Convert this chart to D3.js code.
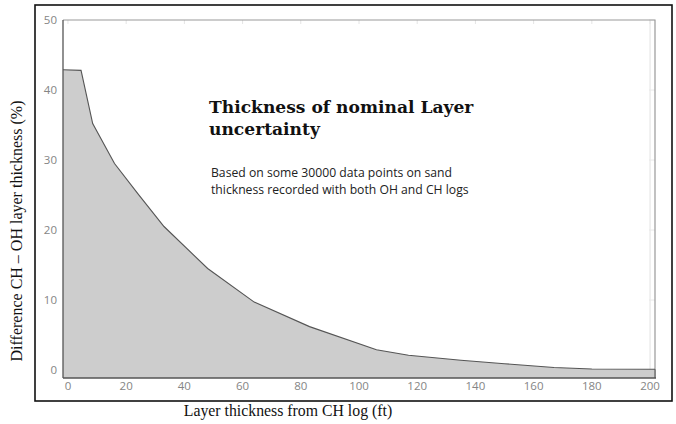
<!DOCTYPE html>
<html>
<head>
<meta charset="utf-8">
<script src="https://cdn.jsdelivr.net/npm/d3@7"></script>
<style>
  body { margin: 0; background: #fff; }
  svg { display: block; }
</style>
</head>
<body>
<div id="chart"></div>
<script>
// layer thickness (ft) vs difference CH - OH (%)
var thickness = [-1.7, 4.5, 8.5, 16, 24, 33, 48, 64, 83, 106, 117, 135, 150, 167, 180, 201.7];
var difference = [42.9, 42.8, 35.2, 29.5, 25.2, 20.5, 14.5, 9.7, 6.2, 2.9, 2.1, 1.4, 0.9, 0.35, 0.15, 0.1];
var xTicks = [0, 20, 40, 60, 80, 100, 120, 140, 160, 180, 200];
var yTicks = [0, 10, 20, 30, 40, 50];

var width = 676, height = 424;
var plot = {left: 63, right: 655, top: 20, bottom: 378};

var svg = d3.select("#chart").append("svg").attr("width", width).attr("height", height);

// outer frame
svg.append("rect").attr("x", 35).attr("y", 5).attr("width", 637).attr("height", 396)
    .attr("fill", "none").attr("stroke", "#111").attr("stroke-width", 1.6);

var x = d3.scaleLinear().domain([-1.7, 201.7]).range([plot.left, plot.right]);
var y = d3.scaleLinear().domain([-1.14, 50]).range([plot.bottom, plot.top]);

var data = thickness.map(function(t, i){ return {x: t, y: difference[i]}; });

// faint grid bits
svg.append("line").attr("x1", x(200)).attr("x2", x(200)).attr("y1", plot.top).attr("y2", y(0))
    .attr("stroke", "#ececec").attr("stroke-width", 1.5);
svg.selectAll(".ttick").data(xTicks).enter().append("line")
    .attr("x1", function(d){ return x(d); }).attr("x2", function(d){ return x(d); })
    .attr("y1", plot.top).attr("y2", plot.top + 4).attr("stroke", "#e4e4e4");
svg.selectAll(".rtick").data(yTicks).enter().append("line")
    .attr("x1", plot.right - 6).attr("x2", plot.right)
    .attr("y1", function(d){ return y(d); }).attr("y2", function(d){ return y(d); })
    .attr("stroke", "#e8e8e8");

// plot frame top/right
svg.append("path")
    .attr("d", "M" + plot.left + "," + plot.top + "H" + plot.right + "V" + plot.bottom)
    .attr("fill", "none").attr("stroke", "#999").attr("stroke-width", 1.2);

var area = d3.area().x(function(d){ return x(d.x); }).y0(plot.bottom).y1(function(d){ return y(d.y); });
var line = d3.line().x(function(d){ return x(d.x); }).y(function(d){ return y(d.y); });

svg.append("path").datum(data).attr("d", area).attr("fill", "#cdcdcd");
svg.append("path").datum(data).attr("d", line).attr("fill", "none")
    .attr("stroke", "#555").attr("stroke-width", 1.1);
svg.append("line").attr("x1", x(201.7)).attr("x2", x(201.7))
    .attr("y1", y(difference[difference.length - 1])).attr("y2", plot.bottom)
    .attr("stroke", "#555").attr("stroke-width", 1.1);

// axis lines
svg.append("line").attr("x1", plot.left).attr("x2", plot.left).attr("y1", plot.top).attr("y2", plot.bottom)
    .attr("stroke", "#555").attr("stroke-width", 1.3);
svg.append("line").attr("x1", plot.left).attr("x2", plot.right + 1).attr("y1", plot.bottom).attr("y2", plot.bottom)
    .attr("stroke", "#555").attr("stroke-width", 1.5);

// tick labels
var tickFont = "'Open Sans', sans-serif";
svg.selectAll(".ylab").data(yTicks).enter().append("text")
    .attr("x", 57).attr("y", function(d){ return y(d); }).attr("dy", "0.35em")
    .attr("text-anchor", "end").attr("font-family", tickFont).attr("font-size", 11.5)
    .attr("fill", "#858585").text(function(d){ return d; });
svg.selectAll(".xlab").data(xTicks).enter().append("text")
    .attr("x", function(d){ return x(d); }).attr("y", 389.5)
    .attr("text-anchor", "middle").attr("font-family", tickFont).attr("font-size", 11.5)
    .attr("fill", "#858585").text(function(d){ return d; });

// axis titles
svg.append("text").attr("x", 288).attr("y", 416).attr("text-anchor", "middle")
    .attr("font-family", "'Liberation Serif', serif").attr("font-size", 15.8).attr("fill", "#111")
    .text("Layer thickness from CH log (ft)");
svg.append("text").attr("transform", "translate(22,231) rotate(-90)").attr("text-anchor", "middle")
    .attr("font-family", "'Liberation Serif', serif").attr("font-size", 16).attr("fill", "#111")
    .text("Difference CH \u2013 OH layer thickness (%)");

// annotation
svg.append("text").attr("x", 209).attr("y", 113)
    .attr("font-family", "'DejaVu Serif', serif").attr("font-weight", "bold").attr("font-size", 17.1)
    .attr("fill", "#111").text("Thickness of nominal Layer");
svg.append("text").attr("x", 209).attr("y", 135)
    .attr("font-family", "'DejaVu Serif', serif").attr("font-weight", "bold").attr("font-size", 17.1)
    .attr("fill", "#111").text("uncertainty");
svg.append("text").attr("x", 211).attr("y", 176.5)
    .attr("font-family", tickFont).attr("font-size", 12.2).attr("fill", "#222")
    .text("Based on some 30000 data points on sand");
svg.append("text").attr("x", 211).attr("y", 193.5)
    .attr("font-family", tickFont).attr("font-size", 12.2).attr("fill", "#222")
    .text("thickness recorded with both OH and CH logs");
</script>
</body>
</html>
